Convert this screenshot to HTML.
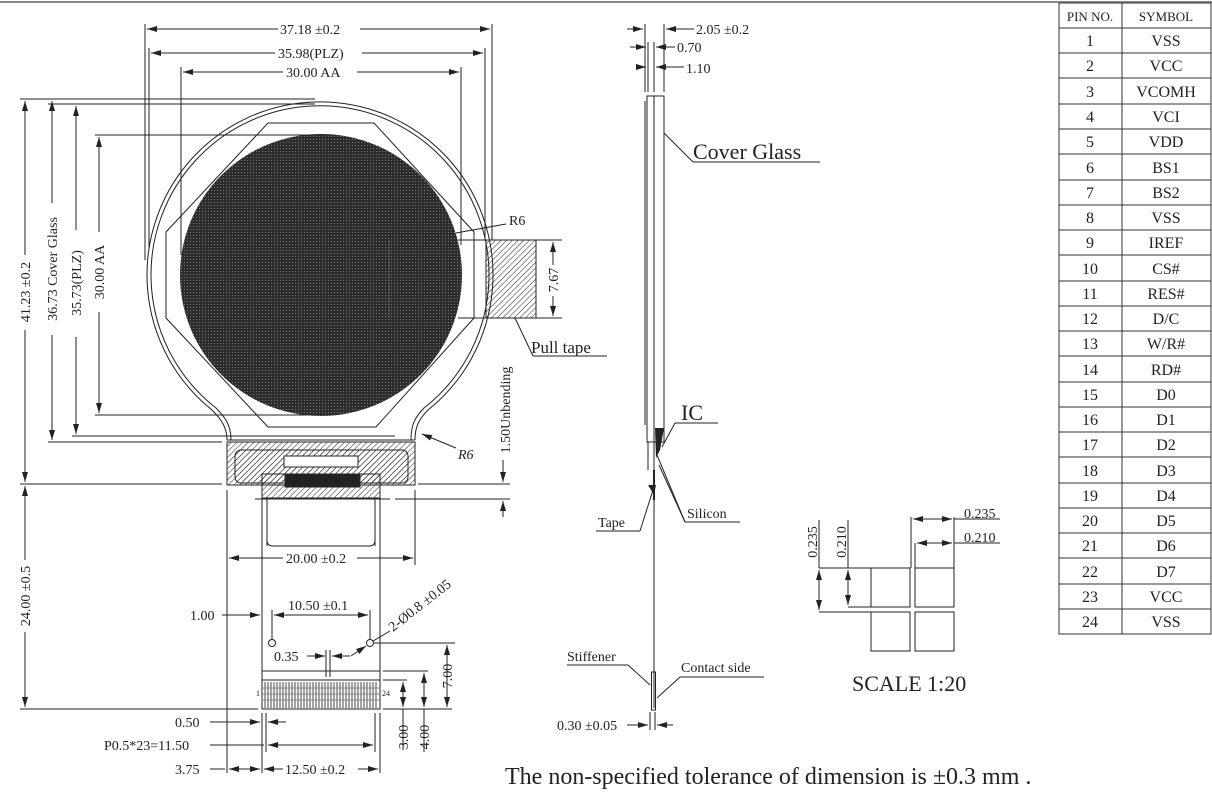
<!DOCTYPE html>
<html><head><meta charset="utf-8"><style>
html,body{margin:0;padding:0;background:#fff;}
svg{display:block;font-family:"Liberation Serif",serif;}
</style></head><body>
<svg width="1212" height="805" viewBox="0 0 1212 805" xmlns="http://www.w3.org/2000/svg">
<defs>
<pattern id="h" width="4" height="4" patternUnits="userSpaceOnUse" patternTransform="rotate(45)"><line x1="0" y1="0" x2="0" y2="4" stroke="#222" stroke-width="1"/></pattern>
<pattern id="g" width="3" height="3" patternUnits="userSpaceOnUse"><rect width="3" height="3" fill="#2d2d2d"/><rect x="1" y="1" width="1" height="1" fill="#777"/></pattern>
<marker id="a" viewBox="0 0 10 6" refX="10" refY="3" markerWidth="10" markerHeight="6" orient="auto-start-reverse" markerUnits="userSpaceOnUse"><path d="M0,0L10,3L0,6z" fill="#222"/></marker>
</defs>
<line x1="0" y1="2" x2="1212" y2="2" stroke="#888" stroke-width="2"/>
<g stroke="#222" stroke-width="1" fill="none">
<line x1="145" y1="24" x2="145" y2="260"/><line x1="492" y1="24" x2="492" y2="240"/>
<line x1="149" y1="48" x2="149" y2="250"/><line x1="485" y1="48" x2="485" y2="240"/>
<line x1="181" y1="67" x2="181" y2="255"/><line x1="461" y1="67" x2="461" y2="245"/>
<line x1="147" y1="29" x2="278" y2="29" marker-start="url(#a)"/><line x1="360" y1="29" x2="490" y2="29" marker-end="url(#a)"/>
<line x1="151" y1="53" x2="275" y2="53" marker-start="url(#a)"/><line x1="362" y1="53" x2="483" y2="53" marker-end="url(#a)"/>
<line x1="183" y1="72" x2="283" y2="72" marker-start="url(#a)"/><line x1="357" y1="72" x2="459" y2="72" marker-end="url(#a)"/>
<line x1="20" y1="99" x2="315" y2="99"/><line x1="48" y1="104" x2="315" y2="104"/>
<line x1="95" y1="135" x2="315" y2="135"/><line x1="95" y1="415" x2="315" y2="415"/>
<line x1="72" y1="436" x2="395" y2="436"/><line x1="48" y1="442" x2="222" y2="442"/>
<line x1="20" y1="484" x2="222" y2="484"/><line x1="418" y1="484" x2="510" y2="484"/>
<line x1="20" y1="709" x2="258" y2="709"/>
<line x1="25" y1="101" x2="25" y2="255" marker-start="url(#a)"/><line x1="25" y1="330" x2="25" y2="482" marker-end="url(#a)"/>
<line x1="52" y1="101" x2="52" y2="203" marker-start="url(#a)"/><line x1="52" y1="335" x2="52" y2="440" marker-end="url(#a)"/>
<line x1="76" y1="106" x2="76" y2="230" marker-start="url(#a)"/><line x1="76" y1="337" x2="76" y2="434" marker-end="url(#a)"/>
<line x1="99" y1="137" x2="99" y2="232" marker-start="url(#a)"/><line x1="99" y1="312" x2="99" y2="413" marker-end="url(#a)"/>
<line x1="25" y1="486" x2="25" y2="560" marker-start="url(#a)"/><line x1="25" y1="632" x2="25" y2="707" marker-end="url(#a)"/>
<path d="M227,440 C227,428 222,420 212,410 A173,173 0 1 1 428,410 C418,420 415,428 415,440"/>
<path d="M231,440 C231,426 226,418 216,408 A169,169 0 1 1 424,408 C414,418 411,426 411,440"/>
<line x1="227" y1="440" x2="415" y2="440"/>
<polygon points="268,123 374,123 474,232 474,318 376,427 268,427 166,318 166,232"/>
</g>
<circle cx="321" cy="275" r="141" fill="url(#g)"/>
<g stroke="#222" stroke-width="1" fill="none">
<line x1="389" y1="240" x2="389" y2="318" stroke="#555"/>
<line x1="458" y1="240" x2="562" y2="240"/><line x1="458" y1="318" x2="562" y2="318"/>
<rect x="486" y="240" width="50" height="78" fill="url(#h)"/>
<line x1="553" y1="242" x2="553" y2="265" marker-start="url(#a)"/><line x1="553" y1="296" x2="553" y2="316" marker-end="url(#a)"/>
<line x1="456" y1="233" x2="506" y2="224"/>
<line x1="515" y1="318" x2="533" y2="356"/><line x1="533" y1="356" x2="607" y2="356"/>
<line x1="422" y1="434" x2="456" y2="448" marker-start="url(#a)"/>
<path d="M227,442 L415,442 L415,485 L227,485 Z" fill="url(#h)"/>
<rect x="235" y="450" width="173" height="33" rx="6" fill="url(#h)"/>
<rect x="284" y="456" width="74" height="11" fill="#fff"/>
<rect x="262" y="474" width="118" height="24" fill="url(#h)"/>
<rect x="285" y="475" width="75" height="12" fill="#222"/>
<line x1="255" y1="499" x2="390" y2="499"/><line x1="395" y1="499" x2="510" y2="499"/>
<line x1="503" y1="460" x2="503" y2="482" marker-end="url(#a)"/><line x1="503" y1="517" x2="503" y2="501" marker-end="url(#a)"/>
<line x1="262" y1="498" x2="262" y2="709"/><line x1="380" y1="498" x2="380" y2="709"/>
<line x1="267" y1="498" x2="267" y2="546"/><line x1="375" y1="498" x2="375" y2="546"/>
<path d="M267,540 Q267,546 273,546 L369,546 Q375,546 375,540"/>
<line x1="227" y1="490" x2="227" y2="773"/><line x1="415" y1="490" x2="415" y2="565"/>
<line x1="229" y1="558" x2="283" y2="558" marker-start="url(#a)"/><line x1="357" y1="558" x2="413" y2="558" marker-end="url(#a)"/>
<line x1="222" y1="615" x2="260" y2="615" marker-end="url(#a)"/>
<line x1="272" y1="610" x2="272" y2="639"/><line x1="370" y1="610" x2="370" y2="639"/>
<line x1="274" y1="615" x2="368" y2="615" marker-start="url(#a)" marker-end="url(#a)"/>
<circle cx="272" cy="643" r="3.5"/><circle cx="370" cy="643" r="3.5"/>
<line x1="374" y1="643" x2="455" y2="643"/>
<line x1="351" y1="656" x2="366" y2="646" marker-end="url(#a)"/><line x1="373" y1="641" x2="390" y2="631"/>
<line x1="307" y1="656" x2="325" y2="656" marker-end="url(#a)"/><line x1="350" y1="656" x2="332" y2="656" marker-end="url(#a)"/>
<line x1="326" y1="650" x2="326" y2="677"/><line x1="330" y1="650" x2="330" y2="677"/>
<rect x="262" y="671" width="118" height="38"/><line x1="262" y1="680" x2="380" y2="680"/>
<line x1="383" y1="671" x2="428" y2="671"/><line x1="383" y1="680" x2="407" y2="680"/><line x1="383" y1="709" x2="452" y2="709"/>
<line x1="447" y1="645" x2="447" y2="707" marker-start="url(#a)" marker-end="url(#a)"/>
<line x1="424" y1="673" x2="424" y2="707" marker-start="url(#a)" marker-end="url(#a)"/>
<line x1="424" y1="709" x2="424" y2="752"/>
<line x1="403" y1="682" x2="403" y2="707" marker-start="url(#a)" marker-end="url(#a)"/>
<line x1="403" y1="709" x2="403" y2="750"/>
<line x1="262" y1="713" x2="262" y2="773"/><line x1="266" y1="713" x2="266" y2="752"/>
<line x1="375" y1="713" x2="375" y2="752"/><line x1="380" y1="713" x2="380" y2="773"/>
<line x1="210" y1="722" x2="260" y2="722" marker-end="url(#a)"/><line x1="286" y1="722" x2="268" y2="722" marker-end="url(#a)"/>
<line x1="210" y1="745" x2="264" y2="745"/><line x1="268" y1="745" x2="373" y2="745" marker-start="url(#a)" marker-end="url(#a)"/>
<line x1="210" y1="769" x2="225" y2="769"/><line x1="229" y1="769" x2="260" y2="769" marker-start="url(#a)" marker-end="url(#a)"/>
<line x1="264" y1="769" x2="283" y2="769" marker-start="url(#a)"/><line x1="358" y1="769" x2="378" y2="769" marker-end="url(#a)"/>
</g>
<g stroke="#222" stroke-width="1">
<path d="M265,682 V708 M268,682 V708 M271,682 V708 M274,682 V708 M277,682 V708 M280,682 V708 M283,682 V708 M286,682 V708 M289,682 V708 M292,682 V708 M295,682 V708 M298,682 V708 M301,682 V708 M304,682 V708 M307,682 V708 M310,682 V708 M313,682 V708 M316,682 V708 M319,682 V708 M322,682 V708 M325,682 V708 M328,682 V708 M331,682 V708 M334,682 V708 M337,682 V708 M340,682 V708 M343,682 V708 M346,682 V708 M349,682 V708 M352,682 V708 M355,682 V708 M358,682 V708 M361,682 V708 M364,682 V708 M367,682 V708 M370,682 V708 M373,682 V708 M376,682 V708" stroke="#444"/>
<path d="M262,688 H380 M262,694 H380 M262,700 H380" stroke="#888"/>
</g>
<g stroke="#222" stroke-width="1" fill="none">
<line x1="645" y1="24" x2="645" y2="92"/><line x1="648" y1="42" x2="648" y2="92"/><line x1="654" y1="42" x2="654" y2="92"/><line x1="664" y1="24" x2="664" y2="92"/>
<line x1="627" y1="29" x2="643" y2="29" marker-end="url(#a)"/><line x1="694" y1="29" x2="666" y2="29" marker-end="url(#a)"/>
<line x1="630" y1="47" x2="646" y2="47" marker-end="url(#a)"/><line x1="675" y1="47" x2="656" y2="47" marker-end="url(#a)"/>
<line x1="636" y1="67" x2="646" y2="67" marker-end="url(#a)"/><line x1="684" y1="67" x2="656" y2="67" marker-end="url(#a)"/>
<line x1="645" y1="101" x2="645" y2="425"/>
<rect x="647" y="96" width="17" height="346"/><line x1="654" y1="96" x2="654" y2="442"/>
<line x1="648" y1="442" x2="648" y2="470"/><line x1="654" y1="442" x2="654" y2="708"/>
<line x1="664" y1="133" x2="693" y2="162"/><line x1="693" y1="162" x2="820" y2="162"/>
<line x1="662" y1="447" x2="675" y2="423"/><line x1="675" y1="423" x2="718" y2="423"/>
<line x1="657" y1="455" x2="685" y2="522"/><line x1="659" y1="465" x2="685" y2="522"/><line x1="685" y1="522" x2="740" y2="522"/>
<line x1="653" y1="490" x2="640" y2="531"/><line x1="596" y1="531" x2="640" y2="531"/>
<line x1="567" y1="665" x2="628" y2="665"/><line x1="628" y1="665" x2="650" y2="685"/>
<line x1="680" y1="677" x2="764" y2="677"/><line x1="680" y1="677" x2="657" y2="698"/>
<line x1="650" y1="712" x2="650" y2="730"/><line x1="655" y1="712" x2="655" y2="730"/>
<line x1="627" y1="725" x2="648" y2="725" marker-end="url(#a)"/><line x1="673" y1="725" x2="657" y2="725" marker-end="url(#a)"/>
</g>
<path d="M655,428 L664,428 L660,450 L656,458 Z" fill="#222"/>
<path d="M648,485 L656,485 L654,495 Z" fill="#222"/>
<rect x="653" y="470" width="2" height="30" fill="#222"/>
<rect x="651.5" y="672" width="4" height="38" fill="none" stroke="#222"/>
<g stroke="#222" stroke-width="1" fill="none">
<rect x="871" y="568" width="39" height="39"/><rect x="915" y="568" width="39" height="39"/>
<rect x="871" y="612" width="39" height="39"/><rect x="915" y="612" width="39" height="39"/>
<line x1="819" y1="568" x2="871" y2="568"/><line x1="848" y1="607" x2="871" y2="607"/><line x1="819" y1="612" x2="871" y2="612"/>
<line x1="819" y1="520" x2="819" y2="568"/><line x1="848" y1="520" x2="848" y2="568"/>
<line x1="819" y1="570" x2="819" y2="610" marker-start="url(#a)" marker-end="url(#a)"/>
<line x1="848" y1="570" x2="848" y2="605" marker-start="url(#a)" marker-end="url(#a)"/>
<line x1="911" y1="517" x2="911" y2="568"/><line x1="954" y1="517" x2="954" y2="568"/><line x1="915" y1="543" x2="915" y2="568"/>
<line x1="913" y1="519" x2="952" y2="519" marker-start="url(#a)" marker-end="url(#a)"/><line x1="954" y1="519" x2="1000" y2="519"/>
<line x1="917" y1="543" x2="952" y2="543" marker-start="url(#a)" marker-end="url(#a)"/><line x1="954" y1="543" x2="1000" y2="543"/>
</g>
<g fill="#222" font-size="14">
<text x="280" y="34">37.18 ±0.2</text>
<text x="278" y="58">35.98(PLZ)</text>
<text x="286" y="77">30.00 AA</text>
<text transform="translate(30,292) rotate(-90)" text-anchor="middle">41.23 ±0.2</text>
<text transform="translate(57,269) rotate(-90)" text-anchor="middle">36.73 Cover Glass</text>
<text transform="translate(81,283) rotate(-90)" text-anchor="middle">35.73(PLZ)</text>
<text transform="translate(104,272) rotate(-90)" text-anchor="middle">30.00 AA</text>
<text x="509" y="225">R6</text>
<text x="458" y="459" font-style="italic">R6</text>
<text transform="translate(558,280) rotate(-90)" text-anchor="middle">7.67</text>
<text x="531" y="353" font-size="17">Pull tape</text>
<text transform="translate(510,410) rotate(-90)" text-anchor="middle">1.50Unbending</text>
<text transform="translate(30,596) rotate(-90)" text-anchor="middle">24.00 ±0.5</text>
<text x="286" y="563">20.00 ±0.2</text>
<text x="190" y="620">1.00</text>
<text x="288" y="610">10.50 ±0.1</text>
<text transform="translate(393,632) rotate(-38)">2-Ø0.8 ±0.05</text>
<text x="274" y="661">0.35</text>
<text x="256" y="696" font-size="8">1</text><text x="382" y="696" font-size="8">24</text>
<text transform="translate(452,676) rotate(-90)" text-anchor="middle">7.00</text>
<text transform="translate(408,737) rotate(-90)" text-anchor="middle">3.00</text>
<text transform="translate(429,737) rotate(-90)" text-anchor="middle">4.00</text>
<text x="175" y="727">0.50</text>
<text x="104" y="750">P0.5*23=11.50</text>
<text x="175" y="774">3.75</text>
<text x="285" y="774">12.50 ±0.2</text>
<text x="696" y="34">2.05 ±0.2</text>
<text x="677" y="52">0.70</text>
<text x="686" y="73">1.10</text>
<text x="693" y="159" font-size="22">Cover Glass</text>
<text x="681" y="420" font-size="22">IC</text>
<text x="687" y="518">Silicon</text>
<text x="598" y="527">Tape</text>
<text x="567" y="661">Stiffener</text>
<text x="681" y="672">Contact side</text>
<text x="557" y="730">0.30 ±0.05</text>
<text x="964" y="518">0.235</text>
<text x="964" y="542">0.210</text>
<text transform="translate(817,542) rotate(-90)" text-anchor="middle">0.235</text>
<text transform="translate(846,542) rotate(-90)" text-anchor="middle">0.210</text>
<text x="852" y="691" font-size="22">SCALE 1:20</text>
<text x="505" y="784" font-size="24">The non-specified tolerance of dimension is  ±0.3 mm .</text>
</g>
<g stroke="#333" stroke-width="1" fill="none">
<rect x="1059" y="3" width="152" height="631"/><line x1="1122" y1="3" x2="1122" y2="634"/>
<path d="M1059,28H1211M1059,53H1211M1059,78H1211M1059,104H1211M1059,129H1211M1059,154H1211M1059,180H1211M1059,205H1211M1059,230H1211M1059,255H1211M1059,281H1211M1059,306H1211M1059,331H1211M1059,356H1211M1059,382H1211M1059,407H1211M1059,432H1211M1059,457H1211M1059,483H1211M1059,508H1211M1059,533H1211M1059,558H1211M1059,584H1211M1059,609H1211"/>
</g>
<g fill="#222" font-size="16" text-anchor="middle">
<text x="1090" y="21" font-size="13">PIN NO.</text><text x="1166" y="21" font-size="13">SYMBOL</text>
<text x="1090" y="46">1</text><text x="1166" y="46">VSS</text>
<text x="1090" y="71">2</text><text x="1166" y="71">VCC</text>
<text x="1090" y="97">3</text><text x="1166" y="97">VCOMH</text>
<text x="1090" y="122">4</text><text x="1166" y="122">VCI</text>
<text x="1090" y="147">5</text><text x="1166" y="147">VDD</text>
<text x="1090" y="173">6</text><text x="1166" y="173">BS1</text>
<text x="1090" y="198">7</text><text x="1166" y="198">BS2</text>
<text x="1090" y="223">8</text><text x="1166" y="223">VSS</text>
<text x="1090" y="248">9</text><text x="1166" y="248">IREF</text>
<text x="1090" y="274">10</text><text x="1166" y="274">CS#</text>
<text x="1090" y="299">11</text><text x="1166" y="299">RES#</text>
<text x="1090" y="324">12</text><text x="1166" y="324">D/C</text>
<text x="1090" y="349">13</text><text x="1166" y="349">W/R#</text>
<text x="1090" y="375">14</text><text x="1166" y="375">RD#</text>
<text x="1090" y="400">15</text><text x="1166" y="400">D0</text>
<text x="1090" y="425">16</text><text x="1166" y="425">D1</text>
<text x="1090" y="450">17</text><text x="1166" y="450">D2</text>
<text x="1090" y="476">18</text><text x="1166" y="476">D3</text>
<text x="1090" y="501">19</text><text x="1166" y="501">D4</text>
<text x="1090" y="526">20</text><text x="1166" y="526">D5</text>
<text x="1090" y="551">21</text><text x="1166" y="551">D6</text>
<text x="1090" y="577">22</text><text x="1166" y="577">D7</text>
<text x="1090" y="602">23</text><text x="1166" y="602">VCC</text>
<text x="1090" y="627">24</text><text x="1166" y="627">VSS</text>
</g>
</svg>
</body></html>
